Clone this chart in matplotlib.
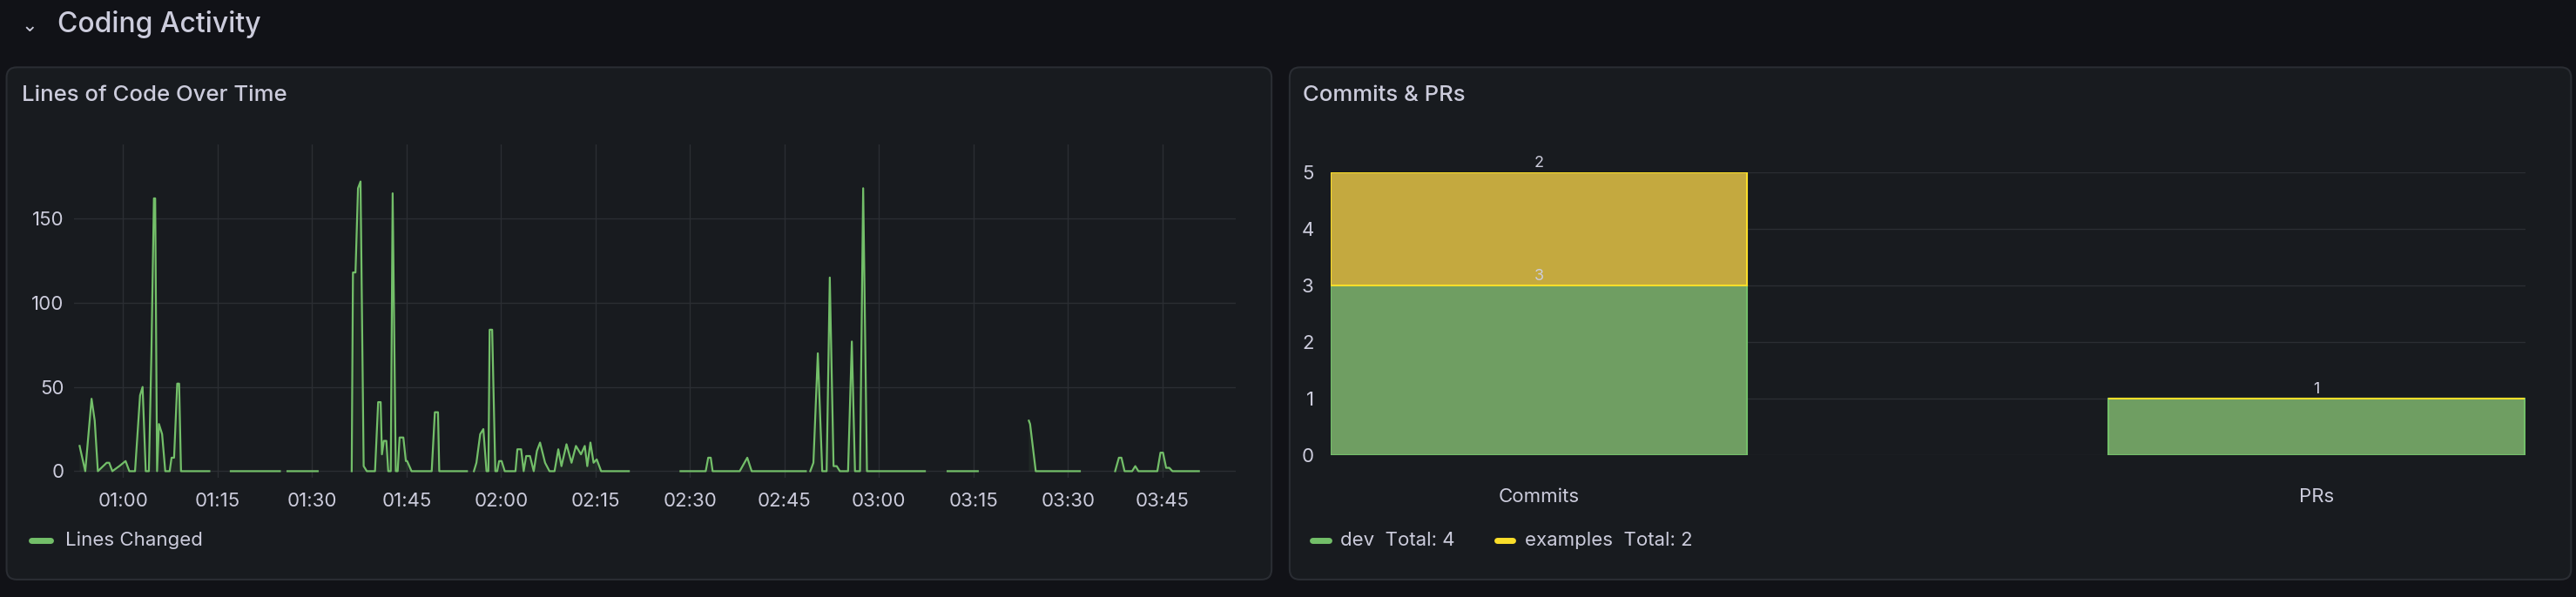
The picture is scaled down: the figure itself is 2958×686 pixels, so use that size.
import numpy as np
import pandas as pd
import matplotlib
matplotlib.use("Agg")
import matplotlib.pyplot as plt
from matplotlib.patches import FancyBboxPatch
from matplotlib.lines import Line2D

plt.rcParams['font.family'] = ['Inter', 'DejaVu Sans']

# ---- data ----
minutes_after_0100 = [-6.9, -6.0, -5.0, -4.5, -4.0, -2.6, -2.2, -1.7, -0.6, 0.4, 1.0, 1.9, 2.7, 3.1, 3.6, 4.1, 4.5, 4.9, 5.1, 5.4, 5.7, 6.2, 6.7, 7.4, 7.7, 8.1, 8.6, 8.9, 9.2, 13.7,
    15.3, 17.1, 24.9, 25.6, 26.1, 30.9, 33.7, 36.3, 36.5, 36.9, 37.3, 37.7, 38.2, 38.7, 40.0, 40.5, 40.9, 41.1, 41.4, 41.8, 42.1, 42.5, 42.8, 43.3, 43.6, 43.9, 44.5, 44.9, 45.1, 45.8, 49.0, 49.5, 50.0, 50.2, 54.6,
    55.4, 55.7, 56.1, 56.7, 57.2, 57.7, 58.0, 58.2, 58.6, 59.1, 59.4, 59.7, 60.1, 60.6, 62.0, 62.3, 62.6, 63.2, 63.6, 64.0, 64.6, 65.2, 65.7, 66.2, 67.0, 67.7, 68.5, 69.1, 69.6, 70.4, 71.2, 71.9, 72.7, 73.3, 73.7, 74.2, 74.7, 75.2, 75.9, 80.3,
    84.2, 88.5, 92.5, 92.9, 93.3, 93.6, 97.9, 99.1, 99.8, 108.4,
    108.7, 109.1, 109.6, 110.3, 111.0, 111.7, 112.2, 112.8, 113.3, 113.8, 115.1, 115.7, 116.2, 117.0, 117.5, 118.1, 127.3,
    129.1, 130.9, 135.7, 139.0, 143.8, 144.0, 144.9, 151.9, 154.6, 157.5, 158.1, 158.5, 159.0, 160.2, 160.7, 161.2, 164.2, 164.7, 165.1, 165.6, 166.1, 166.6, 170.8]
lines_changed = [15, 0, 43, 30, 0, 5, 5, 0, 3, 6, 0, 0, 45, 50, 0, 0, 70, 162, 162, 0, 28, 22, 0, 0, 8, 8, 52, 52, 0, 0,
    np.nan, 0, 0, np.nan, 0, 0, np.nan, 0, 118, 118, 168, 172, 3, 0, 0, 41, 41, 10, 18, 18, 0, 0, 165, 0, 0, 20, 20, 6, 6, 0, 0, 35, 35, 0, 0,
    np.nan, 0, 5, 22, 25, 0, 0, 84, 84, 0, 0, 6, 6, 0, 0, 0, 13, 13, 0, 9, 9, 0, 12, 17, 5, 0, 0, 13, 3, 16, 5, 15, 10, 15, 3, 17, 5, 7, 0, 0,
    np.nan, 0, 0, 8, 8, 0, 0, 8, 0, 0,
    np.nan, 0, 5, 70, 0, 0, 115, 3, 3, 0, 0, 77, 0, 0, 168, 0, 0,
    np.nan, 0, 0, np.nan, 30, 28, 0, 0, np.nan, 0, 8, 8, 0, 0, 3, 0, 0, 11, 11, 2, 2, 0, 0]

bar_categories = ["Commits", "PRs"]
dev_counts = [3, 1]
examples_counts = [2, 0]
line_ticks = ["01:00", "01:15", "01:30", "01:45", "02:00", "02:15", "02:30", "02:45", "03:00", "03:15", "03:30", "03:45"]

# ---- layout helpers (display units of 1568 x 363.6) ----
W, H = 1568.0, 686 / 2958 * 1568
def fx(x): return x / W
def fy(y): return 1 - y / H

BG = "#111217"; PANEL = "#181b1f"; BORDER = "#2a2d33"; TXT = "#ccccdc"; GRID = "#2b2e33"
GREEN = "#73BF69"; YEL = "#FADE2A"

fig = plt.figure(figsize=(29.58, 6.86), dpi=100, facecolor=BG)

fig.text(fx(13), fy(16), "⌄", color=TXT, fontsize=16, ha="left", va="center", family=['DejaVu Sans'])
fig.text(fx(35), fy(15), "Coding Activity", color=TXT, fontsize=23, ha="left", va="center", fontweight="medium")

for (x0, x1) in [(4, 774), (785, 1565)]:
    p = FancyBboxPatch((fx(x0), fy(353)), fx(x1) - fx(x0), fy(41) - fy(353),
                       boxstyle="round,pad=0,rounding_size=0.004", transform=fig.transFigure,
                       facecolor=PANEL, edgecolor=BORDER, linewidth=1.5, mutation_aspect=W / H, zorder=-5)
    fig.patches.append(p)

fig.text(fx(13), fy(58), "Lines of Code Over Time", color=TXT, fontsize=18.5, ha="left", va="center", fontweight="medium")
fig.text(fx(793), fy(58), "Commits & PRs", color=TXT, fontsize=18.5, ha="left", va="center", fontweight="medium")

# ---- line chart ----
base = pd.Timestamp("2024-01-01 01:00")
times = [base + pd.Timedelta(minutes=m) for m in minutes_after_0100]
ax = fig.add_axes([fx(45), fy(291), fx(752) - fx(45), fy(88) - fy(291)])
ax.set_zorder(2)
ax.patch.set_alpha(0)
vals = np.array(lines_changed, dtype=float)
ax.plot(times, vals, color=GREEN, lw=1.6)
ax.fill_between(times, vals, 0, color=GREEN, alpha=0.08, lw=0)
ax.set_xlim(base - pd.Timedelta(minutes=7.8), base + pd.Timedelta(minutes=176.6))
ax.set_ylim(-3.9, 194)
ax.set_yticks([0, 50, 100, 150])
tick_times = [pd.Timestamp("2024-01-01 " + t) for t in line_ticks]
ax.set_xticks(tick_times)
ax.set_xticklabels(line_ticks)
ax.grid(True, color=GRID, lw=1)
ax.set_axisbelow(True)
for s in ax.spines.values(): s.set_visible(False)
ax.tick_params(colors=TXT, labelsize=16, length=0, pad=12)
ax.tick_params(axis='y', pad=8)
fig.lines.append(Line2D([fx(19), fx(31)], [fy(329), fy(329)], transform=fig.transFigure, color=GREEN, lw=5, solid_capstyle="round"))
fig.text(fx(40), fy(329), "Lines Changed", color=TXT, fontsize=16, ha="left", va="center")

# ---- bar chart ----
bx = fig.add_axes([fx(810), fy(277), fx(1537) - fx(810), fy(105) - fy(277)])
bx.set_zorder(2)
bx.patch.set_alpha(0)
xpos = np.arange(len(bar_categories))
w = 0.535
bx.bar(xpos, dev_counts, width=w, color="#6f9e62", edgecolor=GREEN, lw=1.5)
bx.bar(xpos, examples_counts, width=w, bottom=dev_counts, color="#c4a93f", edgecolor=YEL, lw=1.5)
for i in range(len(xpos)):
    bx.text(xpos[i], dev_counts[i] + 0.03, str(dev_counts[i]), color=TXT, fontsize=13, ha="center", va="bottom")
    if examples_counts[i]:
        bx.text(xpos[i], dev_counts[i] + examples_counts[i] + 0.03, str(examples_counts[i]), color=TXT, fontsize=13, ha="center", va="bottom", clip_on=False)
bx.set_xlim(-0.268, 1.268)
bx.set_ylim(0, 5)
bx.set_yticks([0, 1, 2, 3, 4, 5])
bx.set_xticks(xpos)
bx.set_xticklabels(bar_categories)
bx.yaxis.grid(True, color=GRID, lw=1)
bx.set_axisbelow(True)
for s in bx.spines.values(): s.set_visible(False)
bx.tick_params(colors=TXT, labelsize=16, length=0)
bx.tick_params(axis='x', pad=28)
bx.tick_params(axis='y', pad=14)

fig.lines.append(Line2D([fx(799), fx(809)], [fy(329), fy(329)], transform=fig.transFigure, color=GREEN, lw=5, solid_capstyle="round"))
fig.text(fx(816), fy(329), "dev  Total: 4", color=TXT, fontsize=16, ha="left", va="center")
fig.lines.append(Line2D([fx(911), fx(921)], [fy(329), fy(329)], transform=fig.transFigure, color=YEL, lw=5, solid_capstyle="round"))
fig.text(fx(928), fy(329), "examples  Total: 2", color=TXT, fontsize=16, ha="left", va="center")

fig.savefig("out.png", dpi=100, facecolor=BG)
